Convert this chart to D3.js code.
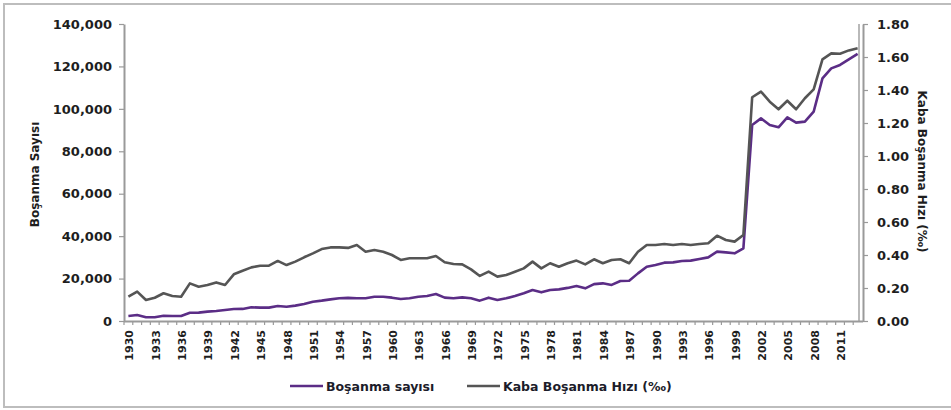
<!DOCTYPE html>
<html><head><meta charset="utf-8">
<script src="https://cdn.jsdelivr.net/npm/d3@7"></script>
<style>
body{margin:0;background:#fff}
svg{display:block}
text{font-family:"DejaVu Sans",sans-serif;}
</style>
</head><body>
<svg id="c" width="951" height="410"></svg>
<script>
// ---- data ----
const years = [
1930,1931,1932,1933,1934,1935,1936,1937,1938,1939,
1940,1941,1942,1943,1944,1945,1946,1947,1948,1949,
1950,1951,1952,1953,1954,1955,1956,1957,1958,1959,
1960,1961,1962,1963,1964,1965,1966,1967,1968,1969,
1970,1971,1972,1973,1974,1975,1976,1977,1978,1979,
1980,1981,1982,1983,1984,1985,1986,1987,1988,1989,
1990,1991,1992,1993,1994,1995,1996,1997,1998,1999,
2000,2001,2002,2003,2004,2005,2006,2007,2008,2009,
2010,2011,2012,2013];
const divorces = [
2360,2830,1800,1800,2500,2360,2360,3900,3950,4400,
4700,5200,5650,5700,6450,6300,6300,7050,6750,7250,
8000,9100,9600,10200,10700,10900,10700,10700,11450,11450,
11000,10400,10700,11450,11800,12700,11000,10700,11150,10700,
9600,11000,9900,10700,11800,13050,14600,13500,14600,14900,
15600,16500,15400,17400,17750,17000,18850,19000,22450,25600,
26400,27500,27650,28300,28450,29250,30000,32700,32350,31900,
34250,92400,95500,92400,91300,96000,93500,94000,98700,114400,
119100,120700,123300,125900];
const crudeRate = [
0.147,0.178,0.127,0.141,0.168,0.152,0.147,0.228,0.208,0.218,
0.234,0.218,0.283,0.305,0.325,0.335,0.335,0.364,0.339,0.360,
0.386,0.410,0.436,0.446,0.446,0.443,0.461,0.420,0.430,0.420,
0.400,0.370,0.380,0.380,0.380,0.394,0.356,0.345,0.343,0.313,
0.273,0.299,0.269,0.279,0.299,0.319,0.360,0.319,0.350,0.329,
0.350,0.366,0.343,0.374,0.350,0.370,0.374,0.350,0.420,0.461,
0.461,0.467,0.461,0.467,0.461,0.467,0.471,0.517,0.491,0.481,
0.521,1.356,1.390,1.329,1.283,1.335,1.283,1.350,1.404,1.586,
1.622,1.620,1.640,1.653];
const leftTicks = [0,20000,40000,60000,80000,100000,120000,140000];
const rightTicks = [0,0.2,0.4,0.6,0.8,1.0,1.2,1.4,1.6,1.8];
const xTickLabels = ["1930","1933","1936","1939","1942","1945","1948","1951","1954","1957","1960","1963","1966","1969","1972","1975","1978","1981","1984","1987","1990","1993","1996","1999","2002","2005","2008","2011"];
const seriesNames = ["Boşanma sayısı","Kaba Boşanma Hızı (‰)"];
const leftTitle = "Boşanma Sayısı";
const rightTitle = "Kaba Boşanma Hızı (‰)";

// ---- layout ----
const L = 124, R = 862, T = 24, B = 321, RA = 863;
const purple = "#5b2d86", gray = "#555555", axisCol = "#9a9a9a", txt = "#1e1e1e";

const svg = d3.select("#c");
svg.append("rect").attr("x",4).attr("y",4).attr("width",980).attr("height",403)
  .attr("fill","none").attr("stroke","#bdbdbd").attr("stroke-width",2);

const x = d3.scaleBand().domain(years).range([L, R]).padding(0);
const yL = d3.scaleLinear().domain([0,140000]).range([B, T]);
const yR = d3.scaleLinear().domain([0,1.8]).range([B, T]);

// plot area right border
svg.append("line").attr("x1",R-3).attr("x2",R-3).attr("y1",T).attr("y2",B)
  .attr("stroke","#8a8a8a").attr("stroke-width",1.2);

// left axis
const gL = svg.append("g").attr("transform",`translate(${L},0)`)
  .call(d3.axisLeft(yL).tickValues(leftTicks).tickSize(5).tickSizeOuter(0).tickPadding(7)
    .tickFormat(d3.format(",")));
// right axis
const gR = svg.append("g").attr("transform",`translate(${RA},0)`)
  .call(d3.axisRight(yR).tickValues(rightTicks).tickSize(5).tickSizeOuter(0).tickPadding(9)
    .tickFormat(d3.format(".2f")));
[gL,gR].forEach(g=>{
  g.select(".domain").attr("stroke",axisCol).attr("stroke-width",2);
  g.selectAll(".tick line").attr("stroke",axisCol).attr("stroke-width",1.2);
  g.selectAll(".tick text").attr("fill",txt).attr("font-size",13).attr("font-weight","bold")
    .attr("font-family","DejaVu Sans");
});

// x axis
const gX = svg.append("g").attr("transform",`translate(0,${B})`);
gX.append("line").attr("x1",L).attr("x2",RA).attr("y1",0.5).attr("y2",0.5)
  .attr("stroke",axisCol).attr("stroke-width",2);
gX.selectAll("line.t").data(years).enter().append("line").attr("class","t")
  .attr("x1",d=>x(d)).attr("x2",d=>x(d)).attr("y1",0).attr("y2",4)
  .attr("stroke",axisCol).attr("stroke-width",1.2);
gX.selectAll("text.xl").data(xTickLabels).enter().append("text").attr("class","xl")
  .attr("transform",d=>`translate(${x(+d)+x.bandwidth()/2+1},9) rotate(-90)`)
  .attr("text-anchor","end").attr("dy","0.36em")
  .attr("font-size",11).attr("font-weight","bold").attr("fill",txt).text(d=>d);

// lines
const pts = years.map((yr,i)=>({yr, d:divorces[i], r:crudeRate[i]}));
const cx = d=>x(d.yr)+x.bandwidth()/2;
svg.append("path").datum(pts).attr("fill","none").attr("stroke",purple).attr("stroke-width",2.6)
  .attr("stroke-linejoin","round").attr("d",d3.line().x(cx).y(d=>yL(d.d)));
svg.append("path").datum(pts).attr("fill","none").attr("stroke",gray).attr("stroke-width",2.6)
  .attr("stroke-linejoin","round").attr("d",d3.line().x(cx).y(d=>yR(d.r)));

// axis titles
svg.append("text").attr("transform",`translate(39,${(T+B)/2+2}) rotate(-90)`)
  .attr("text-anchor","middle").attr("font-size",12).attr("font-weight","bold").attr("fill",txt)
  .text(leftTitle);
svg.append("text").attr("transform",`translate(918,${(T+B)/2-1}) rotate(90)`)
  .attr("text-anchor","middle").attr("font-size",12).attr("font-weight","bold").attr("fill",txt)
  .text(rightTitle);

// legend
const leg = [{name:seriesNames[0],c:purple,x:290},{name:seriesNames[1],c:gray,x:467}];
const lg = svg.append("g");
leg.forEach(l=>{
  lg.append("line").attr("x1",l.x).attr("x2",l.x+33).attr("y1",386).attr("y2",386)
    .attr("stroke",l.c).attr("stroke-width",2.6);
  lg.append("text").attr("x",l.x+36).attr("y",390.5).attr("font-size",12.5).attr("font-weight","bold")
    .attr("fill","#1c1c2a").text(l.name);
});
</script>
</body></html>
